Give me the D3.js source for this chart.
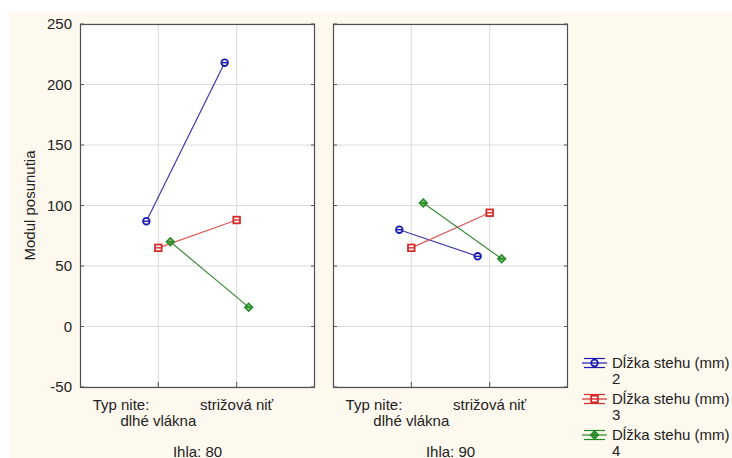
<!DOCTYPE html>
<html>
<head>
<meta charset="utf-8">
<script src="https://cdn.jsdelivr.net/npm/d3@7"></script>
<style>
  body { margin: 0; background: #ffffff; overflow: hidden; }
  svg { display: block; }
  svg text { font-family: "Liberation Sans", Arial, sans-serif; fill: #222; font-size: 15px; }
</style>
</head>
<body>
<div id="chart"></div>
<script>
// Data
var needles = ["Ihla: 80", "Ihla: 90"];
var threadTypes = ["dlhé vlákna", "strižová niť"];
var stitchLengths = ["2", "3", "4"];
// each: [ihla 80, ihla 90] x [dlhé vlákna, strižová niť]
var dlzka2 = [[87, 218], [80, 58]];
var dlzka3 = [[65, 88], [65, 94]];
var dlzka4 = [[70, 16], [102, 56]];
var yTicks = [-50, 0, 50, 100, 150, 200, 250];

var series = [
    { name: "2", values: dlzka2, color: "#1a1ab4", line: "#3a3aa8", shape: "circle" },
    { name: "3", values: dlzka3, color: "#d42a2a", line: "#e05858", shape: "square" },
    { name: "4", values: dlzka4, color: "#238a23", line: "#3d8a3d", shape: "diamond" }
];

var width = 732, height = 458;
var plotTop = 24, plotBottom = 387;

var svg = d3.select("#chart").append("svg")
    .attr("width", width)
    .attr("height", height);

// cream background
svg.append("rect")
    .attr("x", 10).attr("y", 13)
    .attr("width", width - 10).attr("height", height - 13)
    .attr("fill", "#fef9ef");

var y = d3.scaleLinear().domain([-50, 250]).range([plotBottom, plotTop]);
var panel = d3.scaleBand().domain(needles).range([80, 568]).paddingInner(0.0711);
var x = d3.scalePoint().domain(threadTypes).range([0, panel.bandwidth()]).padding(1);
var offset = d3.scalePoint().domain(stitchLengths).range([-12, 12]);

function marker(g, shape, color, cx, cy) {
    if (shape === "circle") {
        g.append("circle").attr("cx", cx).attr("cy", cy).attr("r", 3.3)
            .attr("fill", "#ffffff").attr("stroke", color).attr("stroke-width", 1.8);
    } else if (shape === "square") {
        g.append("rect").attr("x", cx - 3.3).attr("y", cy - 3.3).attr("width", 6.6).attr("height", 6.6)
            .attr("fill", "#ffffff").attr("stroke", color).attr("stroke-width", 1.8);
    } else {
        g.append("path")
            .attr("d", "M" + cx + "," + (cy - 4) + "L" + (cx + 4) + "," + cy + "L" + cx + "," + (cy + 4) + "L" + (cx - 4) + "," + cy + "Z")
            .attr("fill", color).attr("fill-opacity", 0.6).attr("stroke", color).attr("stroke-width", 1.4);
    }
    // flat error bar through the mean
    g.append("line").attr("x1", cx - 3).attr("x2", cx + 3).attr("y1", cy).attr("y2", cy)
        .attr("stroke", color).attr("stroke-width", 1.4);
}

needles.forEach(function (needle, p) {
    var g = svg.append("g").attr("transform", "translate(" + panel(needle) + ",0)");
    var w = panel.bandwidth();

    g.append("rect").attr("x", 0).attr("y", plotTop).attr("width", w).attr("height", plotBottom - plotTop)
        .attr("fill", "#ffffff");

    // grid
    g.selectAll(".hgrid").data(yTicks).enter().append("line")
        .attr("x1", 0).attr("x2", w)
        .attr("y1", function (d) { return y(d); }).attr("y2", function (d) { return y(d); })
        .attr("stroke", "#dcdcdc");
    g.selectAll(".vgrid").data(threadTypes).enter().append("line")
        .attr("x1", function (d) { return x(d); }).attr("x2", function (d) { return x(d); })
        .attr("y1", plotTop).attr("y2", plotBottom)
        .attr("stroke", "#dcdcdc");

    // tick stubs
    g.selectAll(".lt").data(yTicks).enter().append("line")
        .attr("x1", 0).attr("x2", 4)
        .attr("y1", function (d) { return y(d); }).attr("y2", function (d) { return y(d); })
        .attr("stroke", "#555");
    g.selectAll(".rt").data(yTicks).enter().append("line")
        .attr("x1", w - 4).attr("x2", w)
        .attr("y1", function (d) { return y(d); }).attr("y2", function (d) { return y(d); })
        .attr("stroke", "#555");
    g.selectAll(".bt").data(threadTypes).enter().append("line")
        .attr("x1", function (d) { return x(d); }).attr("x2", function (d) { return x(d); })
        .attr("y1", plotBottom - 5).attr("y2", plotBottom)
        .attr("stroke", "#555");

    // series
    series.forEach(function (s) {
        var pts = threadTypes.map(function (t, i) {
            return [x(t) + offset(s.name), y(s.values[p][i])];
        });
        g.append("path").attr("d", d3.line()(pts))
            .attr("fill", "none").attr("stroke", s.line).attr("stroke-width", 1.2);
        pts.forEach(function (pt) { marker(g, s.shape, s.color, pt[0], pt[1]); });
    });

    g.append("rect").attr("x", 0.5).attr("y", plotTop + 0.5).attr("width", w - 1).attr("height", plotBottom - plotTop)
        .attr("fill", "none").attr("stroke", "#505050").attr("stroke-width", 1.2);

    // x labels
    g.append("text").attr("x", x(threadTypes[0]) - 9).attr("y", 410)
        .attr("text-anchor", "end").text("Typ nite:");
    g.append("text").attr("x", x(threadTypes[0])).attr("y", 426)
        .attr("text-anchor", "middle").text(threadTypes[0]);
    g.append("text").attr("x", x(threadTypes[1])).attr("y", 410)
        .attr("text-anchor", "middle").text(threadTypes[1]);
    g.append("text").attr("x", w / 2).attr("y", 457)
        .attr("text-anchor", "middle").text(needle);
});

// y axis labels
svg.selectAll(".ylab").data(yTicks).enter().append("text")
    .attr("x", 72).attr("y", function (d) { return y(d) + 5; })
    .attr("text-anchor", "end")
    .text(function (d) { return d; });

svg.append("text")
    .attr("transform", "translate(35," + ((plotTop + plotBottom) / 2) + ") rotate(-90)")
    .attr("text-anchor", "middle")
    .text("Modul posunutia");

// legend
var legend = svg.append("g");
series.forEach(function (s, i) {
    var ly = 363 + i * 36;
    var lg = legend.append("g");
    lg.append("line").attr("x1", 582).attr("x2", 607).attr("y1", ly).attr("y2", ly)
        .attr("stroke", s.color).attr("stroke-width", 1.2);
    lg.append("line").attr("x1", 584).attr("x2", 605).attr("y1", ly - 4.5).attr("y2", ly - 4.5)
        .attr("stroke", s.color).attr("stroke-width", 1.2);
    lg.append("line").attr("x1", 584).attr("x2", 605).attr("y1", ly + 4.5).attr("y2", ly + 4.5)
        .attr("stroke", s.color).attr("stroke-width", 1.2);
    lg.append("line").attr("x1", 594.5).attr("x2", 594.5).attr("y1", ly - 4.5).attr("y2", ly + 4.5)
        .attr("stroke", s.color).attr("stroke-width", 1.2);
    marker(lg, s.shape, s.color, 594.5, ly);
    lg.append("text").attr("x", 612).attr("y", ly + 5)
        .text("Dĺžka stehu (mm)");
    lg.append("text").attr("x", 612).attr("y", ly + 21)
        .text(s.name);
});
</script>
</body>
</html>
